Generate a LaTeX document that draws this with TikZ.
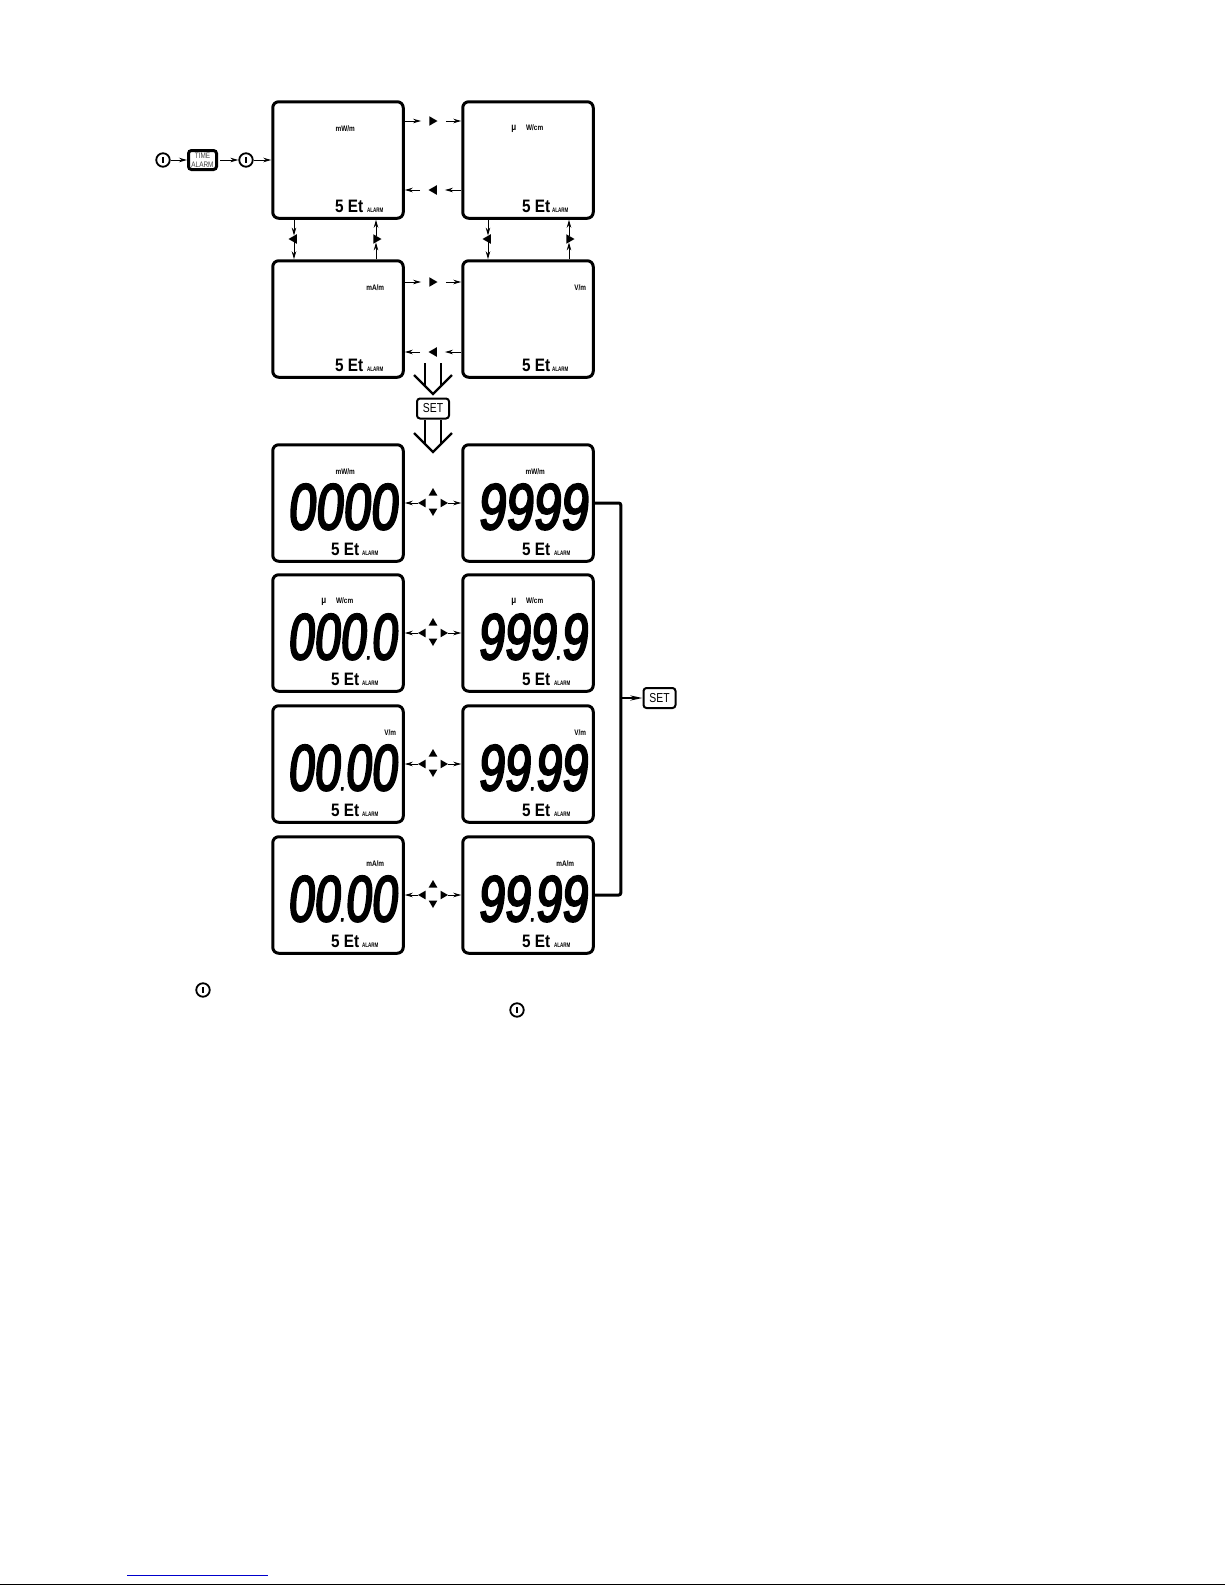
\documentclass[tikz,border=0pt]{standalone}
\usepackage{fontspec}
\setmainfont{Liberation Sans}
\newfontfamily\lcdfont[FakeStretch=0.76,FakeSlant=0.1,FakeBold=3]{Liberation Sans}
\newfontfamily\lcdnarrowfont[FakeStretch=0.72,FakeSlant=0.1,FakeBold=3]{Liberation Sans}
\newfontfamily\setfont[FakeStretch=0.85]{Liberation Sans}
\newfontfamily\unitfont[FakeStretch=0.8]{Liberation Sans}
\newfontfamily\alarmfont[FakeStretch=0.7]{Liberation Sans}
\newfontfamily\keyfont[FakeStretch=0.8]{Liberation Sans}
\usetikzlibrary{arrows.meta,calc,positioning,shapes.geometric}
\newcommand{\lcddot}{{\fontsize{26}{26}\selectfont.}}
\newcommand{\muwcm}{{\fontsize{10}{10}\selectfont μ}\hspace{10pt}W/cm}
\tikzset{
    panel/.style={
        draw,
        line width=3pt,
        rounded corners=6pt,
        minimum width=130.5pt,
        minimum height=116.5pt
    },
    unitlabel/.style={
        inner sep=0pt,
        font=\unitfont\bfseries\fontsize{8}{8}\selectfont
    },
    setlabel/.style={
        inner sep=0pt,
        anchor=base,
        font=\setfont\bfseries\fontsize{18}{18}\selectfont
    },
    alarmlabel/.style={
        inner sep=0pt,
        anchor=base,
        font=\alarmfont\bfseries\fontsize{6.5}{6.5}\selectfont
    },
    readout/.style={
        inner sep=0pt,
        anchor=base west,
        font=\lcdfont\fontsize{65}{65}\selectfont
    },
    dotreadout/.style={
        readout,
        font=\lcdnarrowfont\fontsize{65}{65}\selectfont
    },
    keycap/.style={
        draw,
        fill=white,
        line width=2pt,
        rounded corners=3pt,
        inner sep=0pt,
        minimum width=32pt,
        minimum height=20pt,
        font=\keyfont\fontsize{13}{13}\selectfont
    },
    keytri/.style={
        regular polygon,
        regular polygon sides=3,
        fill=black,
        inner sep=0pt,
        minimum size=11pt,
        shape border rotate=#1
    },
    powerkey/.style={
        draw,
        circle,
        line width=1.8pt,
        inner sep=0pt,
        minimum size=13.5pt,
        path picture={
            \draw[line width=1.5pt] ($(path picture bounding box.center)+(0,-3)$) -- ($(path picture bounding box.center)+(0,3)$);
        }
    },
    wire/.style={-{Stealth[length=8pt,width=4.5pt]},line width=0.9pt},
    hollow/.style={line width=2.4pt},
    trunk/.style={line width=3pt,rounded corners=2pt}
}
\begin{document}
\begin{tikzpicture}[x=1pt,y=-1pt]
    \useasboundingbox (0,0) rectangle (1225,1585);
    % display panels
    \foreach \n/\x/\y/\u/\ux/\sx/\ax in {
        A/338/160/{mW/m}/74/78/104,
        B/528/160/{\muwcm}/66/75/99,
        C/338/319/{mA/m}/104/78/104,
        D/528/319/{V/m}/119/75/99,
        E/338/503/{mW/m}/74/74/99,
        F/528/503/{mW/m}/74/75/101,
        G/338/633/{\muwcm}/66/74/99,
        H/528/633/{\muwcm}/66/75/101,
        I/338/764/{V/m}/119/74/99,
        J/528/764/{V/m}/119/75/101,
        K/338/895/{mA/m}/104/74/99,
        L/528/895/{mA/m}/104/75/101}{
        \node[panel] (\n) at (\x,\y) {};
        \node[unitlabel] (\n-unit) at ($(\n.north west)+(\ux,28.5)$) {\u};
        \node[setlabel] (\n-set) at ($(\n.north west)+(\sx,112)$) {5 Et};
        \node[alarmlabel] (\n-alarm) at ($(\n.north west)+(\ax,112)$) {ALARM};
    }
    % readings
    \foreach \n/\v/\s in {E/0000/readout,F/9999/readout,G/000\lcddot 0/dotreadout,H/999\lcddot 9/dotreadout,I/00\lcddot 00/dotreadout,J/99\lcddot 99/dotreadout,K/00\lcddot 00/dotreadout,L/99\lcddot 99/dotreadout}
        \node[\s] (\n-value) at ($(\n.north west)+(16,86)$) {\v};
    % entry keys
    \node[powerkey] (P1) at (163,160) {};
    \node[keycap,line width=3pt,align=center,text=black!75,font=\keyfont\fontsize{8}{9}\selectfont,minimum height=19pt,minimum width=28pt] (T) at (202.5,160) {TIME\\ALARM};
    \node[powerkey] (P2) at (246,160) {};
    \draw[wire] (P1) -- (T);
    \draw[wire,shorten <=2pt] (T) -- (P2);
    \draw[wire] (P2) -- (A.west |- P2);
    % horizontal steps
    \foreach \a/\b/\r/\l in {A/B/121/190,C/D/282/352}{
        \node[keytri=-90] (\a\b-r) at (432,\r) {};
        \node[keytri=90] (\a\b-l) at (434,\l) {};
        \draw[wire,shorten >=8pt] (\a.east |- \a\b-r) -- (\a\b-r);
        \draw[wire,shorten <=8pt] (\a\b-r) -- (\b.west |- \a\b-r);
        \draw[wire,shorten >=8pt] (\b.west |- \a\b-l) -- (\a\b-l);
        \draw[wire,shorten <=8pt] (\a\b-l) -- (\a.east |- \a\b-l);
    }
    % vertical steps
    \foreach \a/\b/\l/\r in {A/C/294/376,B/D/488/569}{
        \node[keytri=90] (\a\b-l) at (\l,239) {};
        \node[keytri=-90] (\a\b-r) at (\r,239) {};
        \draw[wire] (\a.south -| \a\b-l) -- (\a\b-l);
        \draw[wire] (\a\b-l) -- (\b.north -| \a\b-l);
        \draw[wire] (\b.north -| \a\b-r) -- (\a\b-r);
        \draw[wire] (\a\b-r) -- (\a.south -| \a\b-r);
    }
    % SET between the two groups
    \node[keycap] (S1) at (433,408.5) {SET};
    \foreach \s/\t in {363/394,420/452}{
        \coordinate (h\s) at (433,\s);
        \coordinate (v\s) at (433,\t);
        \draw[hollow] ($(h\s)+(-8,0)$) -- ($(v\s)+(-8,-8)$);
        \draw[hollow] ($(h\s)+(8,0)$) -- ($(v\s)+(8,-8)$);
        \draw[hollow] ($(v\s)+(-19,-19)$) -- (v\s) -- ($(v\s)+(19,-19)$);
    }
    % limit keys
    \foreach \a/\b in {E/F,G/H,I/J,K/L}{
        \coordinate (\a\b) at ($(\a.east)!.5!(\b.west)$);
        \node[keytri=0,minimum size=10pt] (\a\b-u) at ($(\a\b)+(0,-10)$) {};
        \node[keytri=180,minimum size=10pt] (\a\b-d) at ($(\a\b)+(0,8)$) {};
        \node[keytri=90,minimum size=10pt] (\a\b-l) at ($(\a\b)+(-10,0)$) {};
        \node[keytri=-90,minimum size=10pt] (\a\b-r) at ($(\a\b)+(10,0)$) {};
        \draw[wire] (\a\b-l) -- (\a.east |- \a\b-l);
        \draw[wire] (\a\b-r) -- (\b.west |- \a\b-r);
    }
    % closing SET
    \node[keycap] (S2) at (659.5,698) {SET};
    \draw[trunk] (F.east) -- ++(26,0) |- (L.east);
    \coordinate (J2) at ($(F.east)+(26,0)$);
    \draw[wire,line width=2pt,-{Stealth[length=12pt,width=5pt]}] (J2 |- S2) -- (S2);
    % legend symbols
    \node[powerkey] (P3) at (203,990) {};
    \node[powerkey] (P4) at (517,1010) {};
    % page rules
    \draw[blue!80!black,line width=1pt] (127,1575) -- (268,1575);
    \draw[line width=1.2pt] (0,1584.4) -- (1225,1584.4);
\end{tikzpicture}
\end{document}
